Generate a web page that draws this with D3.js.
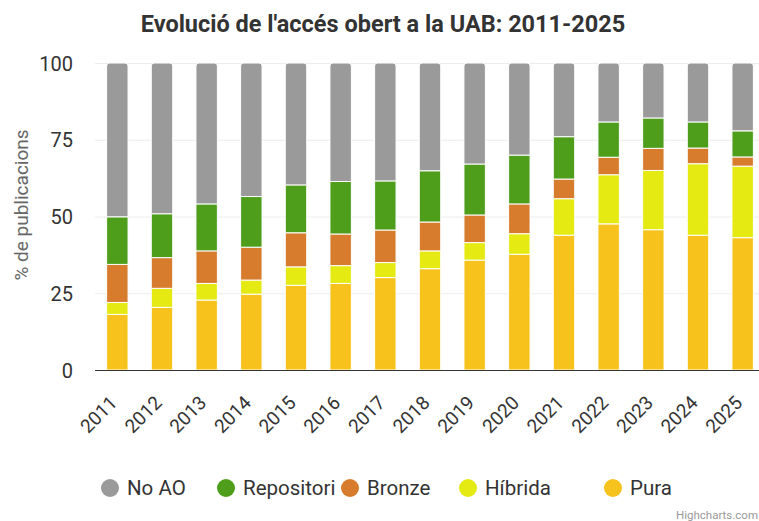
<!DOCTYPE html>
<html>
<head>
<meta charset="utf-8">
<script src="https://cdn.jsdelivr.net/npm/d3@7"></script>
<style>
    body { margin: 0; background: #fff; }
    text { font-family: Roboto, "Noto Sans", sans-serif; }
</style>
</head>
<body>
<svg id="chart" width="759" height="521"></svg>
<script>
// DATA
const years = ['2011', '2012', '2013', '2014', '2015', '2016', '2017', '2018',
    '2019', '2020', '2021', '2022', '2023', '2024', '2025'];
const pura = [18.1, 20.4, 22.8, 24.7, 27.6, 28.2, 30.1, 33.0, 35.8, 37.7, 43.9, 47.6, 45.7, 43.9, 43.1];
const hibrida = [3.9, 6.2, 5.4, 4.6, 6.0, 5.8, 4.9, 5.8, 5.7, 6.7, 11.9, 16.0, 19.3, 23.3, 23.3];
const bronze = [12.4, 10.0, 10.6, 10.7, 11.1, 10.3, 10.6, 9.4, 9.0, 9.7, 6.4, 5.7, 7.2, 5.1, 3.0];
const repositori = [15.5, 14.3, 15.3, 16.5, 15.6, 17.1, 16.0, 16.7, 16.6, 15.9, 13.8, 11.5, 9.9, 8.5, 8.5];
const noAO = [50.1, 49.1, 45.9, 43.5, 39.7, 38.6, 38.4, 35.1, 32.9, 30.0, 24.0, 19.2, 17.9, 19.2, 22.1];
const yTicks = [0, 25, 50, 75, 100];

// series drawn bottom to top; legend lists them top to bottom
const series = [
    { name: 'Pura', values: pura, color: '#f8c21c' },
    { name: 'Híbrida', values: hibrida, color: '#e4ea12' },
    { name: 'Bronze', values: bronze, color: '#d77b2d' },
    { name: 'Repositori', values: repositori, color: '#4e9e1c' },
    { name: 'No AO', values: noAO, color: '#9a9a9a' }
];

const table = years.map((y, i) => {
    const row = { year: y };
    series.forEach(s => (row[s.name] = s.values[i]));
    return row;
});

const svg = d3.select('#chart');
const plot = { left: 95, right: 765, top: 63, bottom: 370 };

// SCALES
const x = d3.scaleBand()
    .domain(years)
    .range([plot.left, plot.right])
    .paddingInner(0.52)
    .paddingOuter(0.26);

const y = d3.scaleLinear().domain([0, 100]).range([plot.bottom, plot.top]);

// TITLE
svg.append('text')
    .attr('x', 383)
    .attr('y', 32)
    .attr('text-anchor', 'middle')
    .attr('font-size', 23.5)
    .attr('font-weight', 'bold')
    .attr('fill', '#333')
    .text("Evolució de l'accés obert a la UAB: 2011-2025");

// GRID
svg.append('g')
    .selectAll('line')
    .data(yTicks.filter(d => d > 0))
    .join('line')
    .attr('x1', plot.left)
    .attr('x2', plot.right)
    .attr('y1', d => y(d) + 0.5)
    .attr('y2', d => y(d) + 0.5)
    .attr('stroke', '#ececec');

// Y AXIS
const yAxis = svg.append('g')
    .attr('transform', `translate(${plot.left - 22},0)`)
    .call(d3.axisLeft(y).tickValues(yTicks).tickSize(0).tickPadding(0));
yAxis.select('.domain').remove();
yAxis.selectAll('text')
    .attr('font-size', 20)
    .attr('fill', '#333')
    .attr('dy', '0.35em');

svg.append('text')
    .attr('transform', `translate(28,205) rotate(-90)`)
    .attr('text-anchor', 'middle')
    .attr('font-size', 19)
    .attr('fill', '#666')
    .text('% de publicacions');

// BARS
const stack = d3.stack().keys(series.map(s => s.name))(table);
const r = 3;

svg.append('g')
    .selectAll('g')
    .data(stack)
    .join('g')
    .attr('fill', (d, i) => series[i].color)
    .selectAll('path')
    .data((d, i) => d.map(p => ({ p: p, top: i === stack.length - 1 })))
    .join('path')
    .attr('stroke', '#fff')
    .attr('stroke-width', 1)
    .attr('d', d => {
        const x0 = x(d.p.data.year);
        const w = x.bandwidth();
        const y0 = y(d.p[0]);
        const y1 = y(d.p[1]);
        if (!d.top) return `M${x0},${y0}V${y1}H${x0 + w}V${y0}Z`;
        return `M${x0},${y0}V${y1 + r}Q${x0},${y1} ${x0 + r},${y1}` +
            `H${x0 + w - r}Q${x0 + w},${y1} ${x0 + w},${y1 + r}V${y0}Z`;
    });

// X AXIS
svg.append('line')
    .attr('x1', plot.left)
    .attr('x2', plot.right)
    .attr('y1', plot.bottom + 0.5)
    .attr('y2', plot.bottom + 0.5)
    .attr('stroke', '#333');

svg.append('g')
    .selectAll('text')
    .data(years)
    .join('text')
    .attr('transform', d => `translate(${x(d) + x.bandwidth() / 2 + 1},${plot.bottom + 34}) rotate(-45)`)
    .attr('text-anchor', 'end')
    .attr('font-size', 19)
    .attr('fill', '#333')
    .text(d => d);

// LEGEND
const legendItems = series.slice().reverse();
const legendX = [110, 226, 350, 468, 613];
const legend = svg.append('g')
    .selectAll('g')
    .data(legendItems)
    .join('g')
    .attr('transform', (d, i) => `translate(${legendX[i]},488)`);

legend.append('circle')
    .attr('r', 9)
    .attr('fill', d => d.color);

legend.append('text')
    .attr('x', 17)
    .attr('dy', '0.35em')
    .attr('font-size', 20.5)
    .attr('fill', '#333')
    .text(d => d.name);

// CREDITS
svg.append('text')
    .attr('x', 676)
    .attr('y', 519)
    .attr('font-size', 11.5)
    .attr('fill', '#999')
    .text('Highcharts.com');
</script>
</body>
</html>
